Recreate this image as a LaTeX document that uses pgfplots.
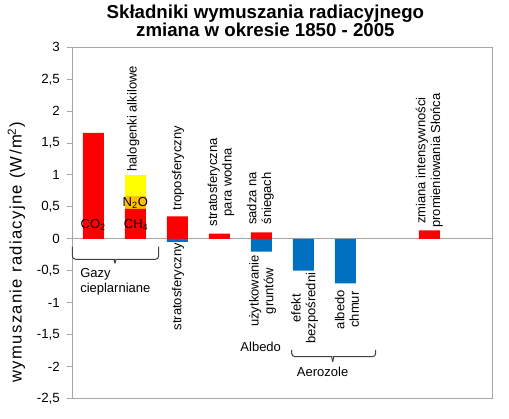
\documentclass[border=0pt]{standalone}
\usepackage{fontspec}
\setmainfont{Liberation Sans}
\newfontfamily\ylabfont[LetterSpace=8]{Liberation Sans}
\usepackage{pgfplots}
\pgfplotsset{compat=1.18}

\definecolor{framegray}{RGB}{166,166,166}
\definecolor{barred}{RGB}{255,0,0}
\definecolor{barblue}{RGB}{0,112,192}
\definecolor{baryellow}{RGB}{255,255,0}
\definecolor{barorange}{RGB}{255,192,0}
\definecolor{bracegray}{RGB}{64,64,64}

\newcommand\lab{\fontsize{9.75}{11}\selectfont}

\begin{document}
\begin{tikzpicture}
\useasboundingbox (-54.225pt,-14.775pt) rectangle (327.525pt,298.725pt);
\begin{axis}[
    at={(0pt,0pt)}, anchor=south west,
    scale only axis,
    width=315pt, height=263.25pt,
    xmin=-0.5, xmax=9.5,
    ymin=-2.5, ymax=3,
    xtick=\empty,
    ytick={-2.5,-2,...,3},
    ytick pos=left,
    tick align=outside,
    major tick length=3.75pt,
    major tick style={framegray, line width=0.75pt},
    axis line style={framegray, line width=0.75pt},
    yticklabel style={font=\fontsize{10}{12}\selectfont, inner sep=0pt, xshift=-5.4pt},
    /pgf/number format/assume math mode=true,
    /pgf/number format/use comma,
    /pgf/number format/fixed,
    /pgf/number format/precision=1,
    extra y ticks={0},
    extra y tick labels={},
    extra y tick style={grid=major, major grid style={framegray, line width=0.75pt}, major tick length=0pt},
    clip=false,
]

% stacked column: halogenki (yellow), N2O (orange), CH4 (red) drawn over each other
\addplot[ybar, bar width=0.5, bar shift=0pt, fill=baryellow, draw=none] coordinates {(1,1.00)};
\addplot[ybar, bar width=0.5, bar shift=0pt, fill=barorange, draw=none] coordinates {(1,0.67)};

\addplot[ybar, bar width=0.5, bar shift=0pt, fill=barred, draw=none] coordinates {
    (0,1.66) (1,0.47) (2,0.35) (3,0.08) (4,0.10) (8,0.13)
};
\addplot[ybar, bar width=0.5, bar shift=0pt, fill=barblue, draw=none] coordinates {
    (2,-0.05) (4,-0.20) (5,-0.50) (6,-0.70)
};

% title
\node[anchor=base, font=\bfseries\fontsize{14}{16}\selectfont] at (axis cs:4.098,3.45) {Składniki wymuszania radiacyjnego};
\node[anchor=base, font=\bfseries\fontsize{14}{16}\selectfont] at (axis cs:4.098,3.168) {zmiana w okresie 1850 - 2005};

% y label
\node[rotate=90, font=\ylabfont\fontsize{12.5}{14}\selectfont] at (axis cs:-1.829,-0.214) {wymuszanie radiacyjne (W/m\textsuperscript{2})};

% labels inside bars
\node[font=\lab] at (axis cs:0,0.215) {CO\textsubscript{2}};
\node[font=\lab] at (axis cs:1.02,0.215) {CH\textsubscript{4}};
\node[font=\lab] at (axis cs:1.0,0.555) {N\textsubscript{2}O};

% labels above bars
\node[rotate=90, anchor=west, inner sep=0pt, font=\lab] at (axis cs:0.95,1.05) {halogenki alkilowe};
\node[rotate=90, anchor=west, inner sep=0pt, font=\lab] at (axis cs:2.017,0.44) {troposferyczny};
\node[rotate=90, anchor=west, inner sep=0pt, font=\lab, align=center] at (axis cs:3.04,0.19) {stratosferyczna\\para wodna};
\node[rotate=90, anchor=west, inner sep=0pt, font=\lab, align=center] at (axis cs:3.98,0.215) {sadza na\\śniegach};
\node[rotate=90, anchor=west, inner sep=0pt, font=\lab, align=center] at (axis cs:8.0,0.168) {zmiana intensywności\\promieniowania Słońca};

% labels below bars
\node[rotate=90, anchor=east, inner sep=0pt, font=\lab] at (axis cs:2.017,-0.062) {stratosferyczny};
\node[rotate=90, anchor=east, inner sep=0pt, font=\lab, align=center] at (axis cs:4.03,-0.255) {użytkowanie\\gruntów};
\node[rotate=90, anchor=east, inner sep=0pt, font=\lab, align=center] at (axis cs:5.03,-0.53) {efekt\\bezpośredni};
\node[rotate=90, anchor=east, inner sep=0pt, font=\lab, align=center] at (axis cs:6.04,-0.80) {albedo\\chmur};

% group annotations
\draw[bracegray, line width=0.75pt, rounded corners=2.5pt] (axis cs:-0.5,-0.125) |- (axis cs:0.42,-0.322) to[out=0,in=90] (axis cs:0.517,-0.385);
\draw[bracegray, line width=0.75pt, rounded corners=2.5pt] (axis cs:1.557,-0.125) |- (axis cs:0.614,-0.322) to[out=180,in=90] (axis cs:0.517,-0.385);
\node[anchor=base west, inner sep=0pt, font=\lab] at (axis cs:-0.317,-0.610) {Gazy};
\node[anchor=base west, inner sep=0pt, font=\lab] at (axis cs:-0.317,-0.845) {cieplarniane};

\node[font=\lab] at (axis cs:3.986,-1.692) {Albedo};

\draw[bracegray, line width=0.75pt, rounded corners=2.5pt] (axis cs:4.724,-1.743) |- (axis cs:5.60,-1.848) to[out=0,in=90] (axis cs:5.70,-1.927);
\draw[bracegray, line width=0.75pt, rounded corners=2.5pt] (axis cs:6.724,-1.743) |- (axis cs:5.80,-1.848) to[out=180,in=90] (axis cs:5.70,-1.927);
\node[font=\lab] at (axis cs:5.46,-2.083) {Aerozole};

\end{axis}
\end{tikzpicture}
\end{document}
